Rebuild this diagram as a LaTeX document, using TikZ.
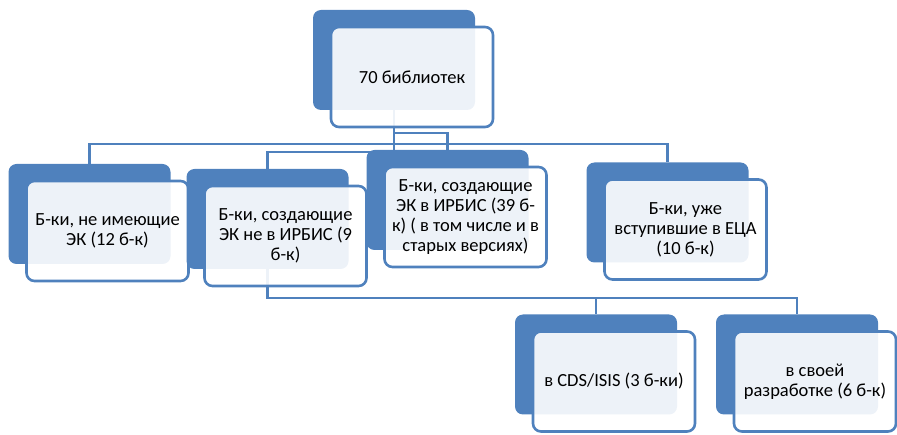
\documentclass[tikz,border=0pt]{standalone}
\usepackage{fontspec}
\setmainfont{Carlito}
\usetikzlibrary{backgrounds}
\definecolor{officeblue}{RGB}{79,129,189}
\tikzset{
  backbox/.style={fill=officeblue, rounded corners=8pt, minimum width=162pt, minimum height=100pt, inner sep=0pt},
  frontbox/.style={fill=white, fill opacity=0.9, text opacity=1, draw=officeblue, line width=2.6pt,
    rounded corners=8pt, minimum width=162pt, minimum height=100pt, inner sep=1pt, align=center,
    font=\fontsize{18.5}{20}\selectfont},
  link/.style={draw=officeblue, line width=2.6pt},
}
\begin{document}
\begin{tikzpicture}[x=1pt, y=-1pt]
    \useasboundingbox (0,0) rectangle (897,435);

    % Root: all libraries
    \node[backbox] (top-b) at (394,60) {};
    \node[frontbox] (top) at ([shift={(18,17)}]top-b.center) {70 библиотек};

    % First level
    \node[backbox] (none-b) at (89.5,214) {};
    \node[frontbox] (none) at ([shift={(18,17)}]none-b.center) {Б-ки, не имеющие\\ЭК (12 б-к)};

    \node[backbox] (other-b) at (267.5,219) {};
    \node[frontbox] (other) at ([shift={(18,17)}]other-b.center) {Б-ки, создающие\\ЭК не в ИРБИС (9\\б-к)};

    \node[backbox] (irbis-b) at (447.5,200) {};
    \node[frontbox] (irbis) at ([shift={(18,17)}]irbis-b.center) {Б-ки, создающие\\ЭК в ИРБИС (39 б-\\к) ( в том числе и в\\старых версиях)};

    \node[backbox] (eca-b) at (667.5,212.5) {};
    \node[frontbox] (eca) at ([shift={(18,17)}]eca-b.center) {Б-ки, уже\\вступившие в ЕЦА\\(10 б-к)};

    % Second level
    \node[backbox] (cds-b) at (596,364.5) {};
    \node[frontbox] (cds) at ([shift={(18,17)}]cds-b.center) {в CDS/ISIS (3 б-ки)};

    \node[backbox] (own-b) at (797,364.5) {};
    \node[frontbox] (own) at ([shift={(18,17)}]own-b.center) {в своей\\разработке (6 б-к)};

    % Connectors behind the boxes
    \begin{scope}[on background layer]
        \draw[link] (top-b.south) -- ++(0,34) -| (none-b.north);
        \draw[link] (top-b.south) -- ++(0,42) -| (other-b.north);
        \draw[link] (top-b.south) -- ++(0,23) -| (irbis-b.north);
        \draw[link] (top-b.south) -- ++(0,34) -| (eca-b.north);
        \draw[link] (other-b.south) -- ++(0,29) -| (cds-b.north);
        \draw[link] (other-b.south) -- ++(0,29) -| (own-b.north);
    \end{scope}
\end{tikzpicture}
\end{document}
